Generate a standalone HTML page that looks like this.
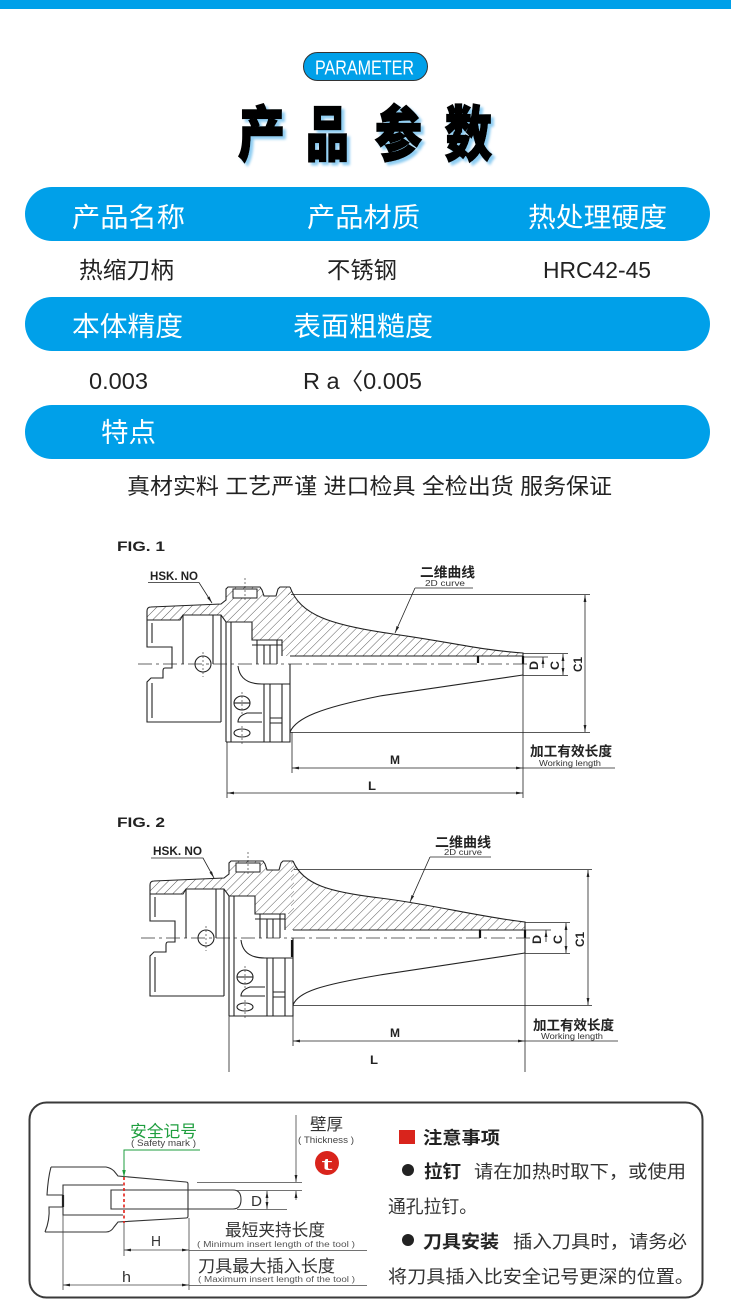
<!DOCTYPE html>
<html><head><meta charset="utf-8">
<style>
html,body{margin:0;padding:0;background:#fff;width:731px;height:1308px;overflow:hidden;}
svg{display:block;}
text{font-family:"Liberation Sans","Noto Sans CJK SC",sans-serif;}
</style></head><body>
<svg width="731" height="1308" viewBox="0 0 731 1308" xmlns="http://www.w3.org/2000/svg">
<defs>
<pattern id="h" width="6" height="6" patternUnits="userSpaceOnUse" patternTransform="rotate(45)">
<line x1="0" y1="0" x2="0" y2="6" stroke="#333" stroke-width="0.8"/></pattern>
<marker id="a" viewBox="0 0 10 10" refX="10" refY="5" markerUnits="userSpaceOnUse" markerWidth="7" markerHeight="7" orient="auto-start-reverse"><path d="M0,3 L10,5 L0,7z" fill="#222"/></marker>
<marker id="ag" viewBox="0 0 10 10" refX="10" refY="5" markerUnits="userSpaceOnUse" markerWidth="7" markerHeight="7" orient="auto-start-reverse"><path d="M0,2.5 L10,5 L0,7.5z" fill="#1e9e3e"/></marker>
<filter id="sh" x="-10%" y="-10%" width="130%" height="130%"><feDropShadow dx="3" dy="3" stdDeviation="1.2" flood-color="#8fcdf2"/></filter>

<g id="body">
 <path fill="url(#h)" stroke="none" d="M147,611 Q147,607 151,607 L221,604 L226,600 L226,589 L228,587 L260,587 L262,590 L264,596 L276,596 L278,589 L280,587 L291,587 L291,640 L252,640 L252,622 L226,622 L221,615 L183,615 L180,620 L147,620 Z"/>
 <rect x="233" y="589" width="24" height="9" fill="#fff" stroke="#222" stroke-width="1"/>
 <g fill="none" stroke="#222" stroke-width="1.1">
  <path d="M147,620 L147,611 Q147,607 151,607 L221,604 L226,600 L226,589 L228,587 L260,587 L262,590 L264,596 L276,596 L278,589 L280,587 L290,587"/>
  <path d="M147,620 L180,620 L183,615 L221,615 L226,622 L252,622 L252,640 L282,640 L282,656"/>
  <path d="M147,620 L147,647 L172,647 L172,664"/>
  <path d="M152,623 L152,643"/>
  <path d="M183,615 L183,664 M213,615 L213,664 M221,615 L221,722 M226,622 L226,742 M231,622 L231,664"/>
  <path d="M257,640 L257,664 M264,645 L264,664 M270,645 L270,664 M277,640 L277,664 M252,645 L282,645"/>
  <circle cx="203" cy="664" r="8"/>
  <path d="M172,664 L172,668 L165,668 Q163,668 163,671 L163,678 L151,678 L147,682 L147,722 L221,722"/>
  <path d="M152,683 L152,718"/>
  <path d="M226,742 L290,742 L290,664"/>
  <path d="M231,664 L231,742 M264,684 L264,742 M270,684 L270,742 M282,684 L282,742"/>
  <path d="M238,666 Q240,684 262,684 L290,684"/>
  <ellipse cx="242" cy="703" rx="8" ry="7"/>
  <path d="M234,703 L250,703"/>
  <ellipse cx="242" cy="733" rx="8" ry="4"/>
  <path d="M262,713 L247,713 Q238,716 238,722 L262,722"/>
  <path d="M270,718 L282,718 M270,723 L282,723"/>
 </g>
 <path fill="none" stroke="#222" stroke-width="0.6" stroke-dasharray="2,2" d="M245,578 L245,600 M203,652 L203,677 M242,692 L242,714 M242,726 L242,745"/>
</g>
</defs>

<!-- top bar -->
<rect x="0" y="0" width="731" height="9" fill="#00a0e9"/>
<!-- PARAMETER pill -->
<rect x="303.5" y="52.5" width="124" height="28" rx="14" fill="#00a0e9" stroke="#333" stroke-width="1"/>
<text x="315" y="74.5" font-size="20" fill="#fff" textLength="99" lengthAdjust="spacingAndGlyphs">PARAMETER</text>
<!-- title -->
<g filter="url(#sh)" font-size="60" font-weight="900" fill="#000" stroke="#000" stroke-width="1.6">
<text x="238" y="156" textLength="47" lengthAdjust="spacingAndGlyphs">产</text>
<text x="306" y="156" textLength="43" lengthAdjust="spacingAndGlyphs">品</text>
<text x="375" y="156" textLength="47" lengthAdjust="spacingAndGlyphs">参</text>
<text x="445" y="156" textLength="47" lengthAdjust="spacingAndGlyphs">数</text>
</g>

<!-- table -->
<rect x="25" y="187" width="685" height="54" rx="27" fill="#00a0e9"/>
<rect x="25" y="297" width="685" height="54" rx="27" fill="#00a0e9"/>
<rect x="25" y="405" width="685" height="54" rx="27" fill="#00a0e9"/>
<g font-size="27" fill="#fff">
<text x="72" y="227" textLength="113" lengthAdjust="spacingAndGlyphs">产品名称</text>
<text x="307" y="227" textLength="113" lengthAdjust="spacingAndGlyphs">产品材质</text>
<text x="528" y="227" textLength="139" lengthAdjust="spacingAndGlyphs">热处理硬度</text>
<text x="72" y="336" textLength="111" lengthAdjust="spacingAndGlyphs">本体精度</text>
<text x="293" y="336" textLength="140" lengthAdjust="spacingAndGlyphs">表面粗糙度</text>
<text x="101" y="442" textLength="55" lengthAdjust="spacingAndGlyphs">特点</text>
</g>
<g font-size="23" fill="#222">
<text x="79" y="278" textLength="95" lengthAdjust="spacingAndGlyphs">热缩刀柄</text>
<text x="327" y="278" textLength="70" lengthAdjust="spacingAndGlyphs">不锈钢</text>
<text x="543" y="278" textLength="108" lengthAdjust="spacingAndGlyphs">HRC42-45</text>
<text x="89" y="389" textLength="59" lengthAdjust="spacingAndGlyphs">0.003</text>
<text x="303" y="389" textLength="119" lengthAdjust="spacingAndGlyphs">R a〈0.005</text>
</g>
<text x="127" y="494" font-size="22" fill="#222" textLength="485" lengthAdjust="spacingAndGlyphs">真材实料 工艺严谨 进口检具 全检出货 服务保证</text>

<!-- FIG 1 -->
<text x="117" y="551" font-size="14" font-weight="bold" fill="#222" textLength="48" lengthAdjust="spacingAndGlyphs">FIG. 1</text>
<text x="150" y="580" font-size="11.5" font-weight="bold" fill="#222" textLength="48" lengthAdjust="spacingAndGlyphs">HSK. NO</text>
<path d="M148,582.5 L199,582.5 L212,603" fill="none" stroke="#222" stroke-width="0.8" marker-end="url(#a)"/>
<use href="#body"/>
<path fill="url(#h)" stroke="none" d="M288,587 L290,587 C300,615 330,625 393,634 S480,650 523,653 L523,656 L282,656 L282,640 L288,640 Z"/>
<g fill="none" stroke="#222" stroke-width="1.1">
<path d="M290,587 C300,615 330,625 393,634 S480,650 523,653 L523,675"/>
<path d="M290,656 L523,656"/>
<path d="M290,732 C296,718 320,708 380,696 L523,675"/>
</g>
<path d="M478,656 L478,663 M523,656 L523,664" stroke="#111" stroke-width="2.2"/>
<path d="M138,664 L530,664" stroke="#333" stroke-width="0.7" stroke-dasharray="14,4,3,4" fill="none"/>
<g fill="none" stroke="#222" stroke-width="0.8">
<path d="M291,594.5 L590,594.5 M290,732.5 L590,732.5"/>
<path d="M585,595 L585,732" marker-start="url(#a)" marker-end="url(#a)"/>
<path d="M523,653.5 L568,653.5 M523,675.5 L568,675.5 M523,657 L548,657"/>
<path d="M563,654 L563,675" marker-start="url(#a)" marker-end="url(#a)"/>
<path d="M543,668 L543,657" marker-end="url(#a)"/>
<path d="M227,742 L227,798 M292,732 L292,773 M523,675 L523,798"/>
<path d="M292,768 L523,768" marker-start="url(#a)" marker-end="url(#a)"/>
<path d="M523,768 L615,768"/>
<path d="M227,793 L523,793" marker-start="url(#a)" marker-end="url(#a)"/>
<path d="M415,588 L473,588"/>
<path d="M415,588 L395,633" marker-end="url(#a)"/>
</g>
<g font-size="12" font-weight="bold" fill="#222">
<text transform="translate(538,670) rotate(-90)" textLength="9" lengthAdjust="spacingAndGlyphs">D</text>
<text transform="translate(559,670) rotate(-90)" textLength="9" lengthAdjust="spacingAndGlyphs">C</text>
<text transform="translate(582,672) rotate(-90)" textLength="15" lengthAdjust="spacingAndGlyphs">C1</text>
<text x="390" y="764" font-size="12" textLength="10" lengthAdjust="spacingAndGlyphs">M</text>
<text x="368" y="790" font-size="12" textLength="8" lengthAdjust="spacingAndGlyphs">L</text>
</g>
<text x="420" y="577" font-size="13.5" font-weight="bold" fill="#222" textLength="55" lengthAdjust="spacingAndGlyphs">二维曲线</text>
<text x="425" y="586" font-size="8" fill="#333" textLength="40" lengthAdjust="spacingAndGlyphs">2D curve</text>
<text x="530" y="756" font-size="13.5" font-weight="bold" fill="#222" textLength="82" lengthAdjust="spacingAndGlyphs">加工有效长度</text>
<text x="539" y="766" font-size="8.5" fill="#333" textLength="62" lengthAdjust="spacingAndGlyphs">Working length</text>

<!-- FIG 2 -->
<text x="117" y="827" font-size="14" font-weight="bold" fill="#222" textLength="48" lengthAdjust="spacingAndGlyphs">FIG. 2</text>
<text x="153" y="855" font-size="11.5" font-weight="bold" fill="#222" textLength="49" lengthAdjust="spacingAndGlyphs">HSK. NO</text>
<path d="M151,858 L203,858 L214,878" fill="none" stroke="#222" stroke-width="0.8" marker-end="url(#a)"/>
<use href="#body" transform="translate(3,274)"/>
<path fill="url(#h)" stroke="none" d="M291,861 L293,861 C303,885 330,892 380,898 S480,917 525,922 L525,930 L285,930 L285,914 L291,914 Z"/>
<g fill="none" stroke="#222" stroke-width="1.1">
<path d="M293,861 C303,885 330,892 380,898 S480,917 525,922 L525,953"/>
<path d="M293,930 L525,930"/>
<path d="M293,1005 C298,992 320,985 380,975 L525,953"/>
</g>
<path d="M480,930 L480,938 M525,930 L525,938 M292,940 L292,957" stroke="#111" stroke-width="2.2"/>
<path d="M141,938 L532,938" stroke="#333" stroke-width="0.7" stroke-dasharray="14,4,3,4" fill="none"/>
<g fill="none" stroke="#222" stroke-width="0.8">
<path d="M294,869.5 L592,869.5 M293,1005.5 L592,1005.5"/>
<path d="M588,870 L588,1005" marker-start="url(#a)" marker-end="url(#a)"/>
<path d="M525,922.5 L570,922.5 M525,953.5 L570,953.5 M525,930 L551,930"/>
<path d="M566,923 L566,953" marker-start="url(#a)" marker-end="url(#a)"/>
<path d="M546,942 L546,930" marker-end="url(#a)"/>
<path d="M229,1015 L229,1072 M293,1005 L293,1046 M525,953 L525,1072"/>
<path d="M293,1041 L525,1041" marker-start="url(#a)" marker-end="url(#a)"/>
<path d="M525,1041 L618,1041"/>
<path d="M430,857 L491,857"/>
<path d="M430,857 L410,902" marker-end="url(#a)"/>
</g>
<g font-size="12" font-weight="bold" fill="#222">
<text transform="translate(541,944) rotate(-90)" textLength="9" lengthAdjust="spacingAndGlyphs">D</text>
<text transform="translate(562,944) rotate(-90)" textLength="9" lengthAdjust="spacingAndGlyphs">C</text>
<text transform="translate(584,947) rotate(-90)" textLength="15" lengthAdjust="spacingAndGlyphs">C1</text>
<text x="390" y="1037" textLength="10" lengthAdjust="spacingAndGlyphs">M</text>
<text x="370" y="1064" textLength="8" lengthAdjust="spacingAndGlyphs">L</text>
</g>
<text x="435" y="847" font-size="13.5" font-weight="bold" fill="#222" textLength="56" lengthAdjust="spacingAndGlyphs">二维曲线</text>
<text x="444" y="855" font-size="8" fill="#333" textLength="38" lengthAdjust="spacingAndGlyphs">2D curve</text>
<text x="533" y="1030" font-size="13.5" font-weight="bold" fill="#222" textLength="81" lengthAdjust="spacingAndGlyphs">加工有效长度</text>
<text x="541" y="1039" font-size="8.5" fill="#333" textLength="62" lengthAdjust="spacingAndGlyphs">Working length</text>

<!-- bottom box -->
<rect x="29.5" y="1102.5" width="673" height="195" rx="17" fill="none" stroke="#3a3a3a" stroke-width="2"/>
<g fill="none" stroke="#333" stroke-width="1.1">
<path d="M51,1167 L106,1167 Q111,1168 114,1171 L118,1176 L186,1182 Q188,1182 188,1184 L188,1216 Q188,1218 186,1218 L118,1222 L114,1227 Q111,1232 106,1232 L45,1232"/>
<path d="M51,1167 Q48,1178 47,1195 L63,1195"/>
<path d="M63,1207 L49,1207 Q50,1220 45,1232"/>
<path d="M123,1185 L63,1185 L63,1215 L123,1215"/>
<path d="M111,1190 L233,1190 Q241,1190 241,1199.5 Q241,1209 233,1209 L111,1209 Z"/>
</g>
<path d="M63,1195 L63,1207" stroke="#222" stroke-width="2.2"/>
<path d="M124,1177 L124,1223" stroke="#e32119" stroke-width="1.6" stroke-dasharray="3,2.5"/>
<path d="M200,1150 L124,1150 L124,1177" fill="none" stroke="#1e9e3e" stroke-width="1" marker-end="url(#ag)"/>
<text x="130" y="1137" font-size="16.5" fill="#1e9e3e" textLength="67" lengthAdjust="spacingAndGlyphs">安全记号</text>
<text x="131" y="1146" font-size="9" fill="#444" textLength="65" lengthAdjust="spacingAndGlyphs">( Safety mark )</text>
<text x="310" y="1130" font-size="16.5" fill="#333" textLength="33" lengthAdjust="spacingAndGlyphs">壁厚</text>
<text x="298" y="1143" font-size="9" fill="#444" textLength="56" lengthAdjust="spacingAndGlyphs">( Thickness )</text>
<circle cx="327" cy="1163" r="12" fill="#d9241c"/>
<text x="321.5" y="1170" font-size="17" fill="#fff" textLength="11" lengthAdjust="spacingAndGlyphs">t</text>
<g fill="none" stroke="#444" stroke-width="0.8">
<path d="M197,1182.5 L302,1182.5 M237,1190.5 L302,1190.5 M237,1209.5 L287,1209.5"/>
<path d="M296,1115 L296,1182" marker-end="url(#a)"/>
<path d="M296,1200 L296,1191" marker-end="url(#a)"/>
<path d="M267,1191 L267,1209" marker-start="url(#a)" marker-end="url(#a)"/>
<path d="M63,1215 L63,1290 M124,1223 L124,1256 M189,1218 L189,1290"/>
<path d="M124,1250 L189,1250" marker-start="url(#a)" marker-end="url(#a)"/>
<path d="M63,1285 L189,1285" marker-start="url(#a)" marker-end="url(#a)"/>
<path d="M189,1250.5 L367,1250.5 M189,1285.5 L367,1285.5"/>
</g>
<g fill="#333">
<text x="251" y="1206" font-size="15" textLength="11" lengthAdjust="spacingAndGlyphs">D</text>
<text x="151" y="1246" font-size="15" textLength="10" lengthAdjust="spacingAndGlyphs">H</text>
<text x="122" y="1282" font-size="15" textLength="9" lengthAdjust="spacingAndGlyphs">h</text>
<text x="225" y="1236" font-size="17" textLength="100" lengthAdjust="spacingAndGlyphs">最短夹持长度</text>
<text x="197" y="1247" font-size="8.5" fill="#555" textLength="158" lengthAdjust="spacingAndGlyphs">( Minimum insert length of the tool )</text>
<text x="198" y="1272" font-size="17" textLength="137" lengthAdjust="spacingAndGlyphs">刀具最大插入长度</text>
<text x="198" y="1282" font-size="8.5" fill="#555" textLength="157" lengthAdjust="spacingAndGlyphs">( Maximum insert length of the tool )</text>
</g>

<!-- notes -->
<rect x="399" y="1130" width="16" height="14" fill="#d9241c"/>
<circle cx="408" cy="1170" r="6" fill="#222"/>
<circle cx="408" cy="1240" r="6" fill="#222"/>
<g fill="#222">
<text x="423" y="1144" font-size="17.5" font-weight="bold" textLength="77" lengthAdjust="spacingAndGlyphs">注意事项</text>
<text x="424" y="1178" font-size="18" font-weight="bold" textLength="37" lengthAdjust="spacingAndGlyphs">拉钉</text>
<text x="474" y="1178" font-size="18" fill="#333" textLength="212" lengthAdjust="spacingAndGlyphs">请在加热时取下，或使用</text>
<text x="388" y="1213" font-size="18" fill="#333" textLength="89" lengthAdjust="spacingAndGlyphs">通孔拉钉。</text>
<text x="423" y="1248" font-size="18" font-weight="bold" textLength="76" lengthAdjust="spacingAndGlyphs">刀具安装</text>
<text x="513" y="1248" font-size="18" fill="#333" textLength="174" lengthAdjust="spacingAndGlyphs">插入刀具时，请务必</text>
<text x="388" y="1283" font-size="18" fill="#333" textLength="306" lengthAdjust="spacingAndGlyphs">将刀具插入比安全记号更深的位置。</text>
</g>
</svg>
</body></html>
